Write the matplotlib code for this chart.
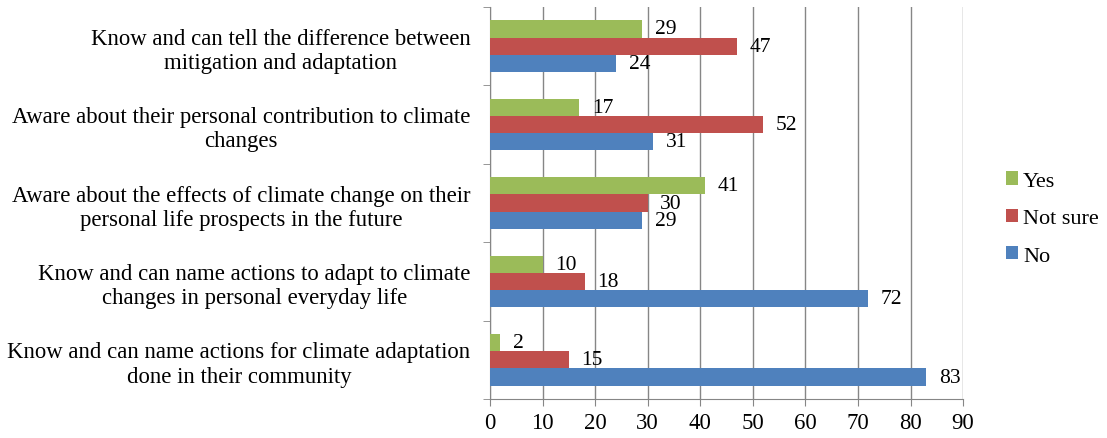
import numpy as np
import matplotlib
matplotlib.use("Agg")
import matplotlib.pyplot as plt

plt.rcParams['font.family'] = ['Liberation Serif', 'DejaVu Serif']

# categories listed bottom to top
categories = [
    "Know and can name actions for climate adaptation\ndone in their community",
    "Know and can name actions to adapt to climate\nchanges in personal everyday life",
    "Aware about the effects of climate change on their\npersonal life prospects in the future",
    "Aware about their personal contribution to climate\nchanges",
    "Know and can tell the difference between\nmitigation and adaptation",
]
no_vals = [83, 72, 29, 31, 24]
notsure_vals = [15, 18, 30, 52, 47]
yes_vals = [2, 10, 41, 17, 29]

c_yes = "#9BBB59"
c_ns = "#C0504D"
c_no = "#4F81BD"
grid_c = "#868686"
fs = 16.4

fig = plt.figure(figsize=(11.07, 4.39), dpi=100)
ax = fig.add_axes([0.4426, 0.0888, 0.4274, 0.893])

y = np.arange(len(categories))
h = 0.22
b_no = ax.barh(y - h, no_vals, h, color=c_no, label="No", zorder=3)
b_ns = ax.barh(y, notsure_vals, h, color=c_ns, label="Not sure", zorder=3)
b_yes = ax.barh(y + h, yes_vals, h, color=c_yes, label="Yes", zorder=3)

for bars in (b_no, b_ns, b_yes):
    for b in bars:
        w = b.get_width()
        ax.annotate(f"{w:g}", (w, b.get_y() + b.get_height() / 2),
                    xytext=(9, 0), textcoords="offset points",
                    ha="left", va="center", fontsize=15.5, zorder=4)

ax.set_xlim(0, 90)
ax.set_ylim(-0.5, len(categories) - 0.5)
ax.set_xticks(np.arange(0, 91, 10))
ax.set_yticks(y)
ax.set_yticklabels(categories, multialignment="center")
ax.set_yticks(np.arange(-0.5, len(categories), 1), minor=True)
ax.tick_params(axis="y", which="major", length=0, pad=14, labelsize=fs)
ax.tick_params(axis="y", which="minor", length=5, color=grid_c)
ax.tick_params(axis="x", length=5, color=grid_c, labelsize=fs, pad=4)

ax.xaxis.grid(True, color=grid_c, linewidth=1, zorder=0)
for s in ("top", "right"):
    ax.spines[s].set_visible(False)
for s in ("left", "bottom"):
    ax.spines[s].set_color(grid_c)

handles, labels = ax.get_legend_handles_labels()
fig.legend(handles[::-1], labels[::-1], loc="center left",
           bbox_to_anchor=(0.909, 0.5), frameon=False, fontsize=16,
           borderpad=0, borderaxespad=0,
           handlelength=0.55, handleheight=0.55, handletextpad=0.2,
           labelspacing=0.8)

fig.savefig("out.png", dpi=100)
